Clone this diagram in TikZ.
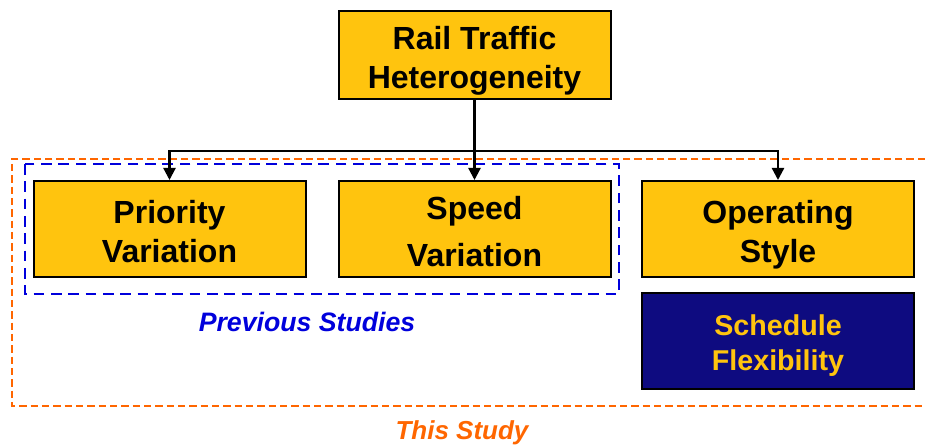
\documentclass[tikz,border=0pt]{standalone}
\usepackage{fontspec}
\setmainfont{Liberation Sans}
\usetikzlibrary{arrows.meta}

\definecolor{boxyellow}{RGB}{255,196,14}
\definecolor{boxnavy}{RGB}{14,11,128}
\definecolor{studyorange}{RGB}{255,102,0}
\definecolor{prevblue}{RGB}{0,0,220}

% struts that keep the two lines at the same place in every box
\newcommand{\hiline}[1]{\rule{0pt}{#1}}
\newcommand{\loline}[1]{\rule[-#1]{0pt}{#1}}

\tikzset{every picture/.style={line width=0.75pt}}

\begin{document}
\begin{tikzpicture}[x=0.75pt,y=0.75pt,yscale=-1,xscale=1,
	box/.style={draw=black,line width=1.5pt,fill=boxyellow,minimum width=204pt,minimum height=72pt,align=center,font=\fontsize{24}{29}\selectfont\bfseries,inner sep=0pt},
	navybox/.style={draw=black,line width=1.5pt,fill=boxnavy,text=boxyellow,minimum width=204pt,minimum height=72pt,align=center,font=\fontsize{21.5}{27}\selectfont\bfseries,inner sep=0pt},
	link/.style={draw=black,line width=1.7pt},
	linkarrow/.style={link,-{Triangle[width=9pt,length=9pt]}}]
	\useasboundingbox (0,0) rectangle (925,445);

	% Boxes
	\node[box,minimum height=66pt] (rail) at (474.5,55) {\hiline{26.5pt}Rail Traffic\\Heterogeneity\loline{5.5pt}};
	\node[box] (prio) at (169.5,229) {\hiline{26.5pt}Priority\\Variation\loline{5.5pt}};
	\node[box] (speed) at (474.5,229) {\hiline{26.5pt}Speed\\[6pt]Variation\loline{5.5pt}};
	\node[box] (oper) at (778,229) {\hiline{26.5pt}Operating\\Style\loline{5.5pt}};
	\node[navybox] (sched) at (778,341) {\hiline{23pt}Schedule\\Flexibility\loline{5pt}};

	%Dashed frames
	\draw[studyorange,line width=1.7pt,dash pattern=on 5.5pt off 3pt] (925,159) -- (12,159) -- (12,406) -- (925,406);
	\draw[prevblue,line width=2pt,dash pattern=on 8pt off 5pt] (25,164) rectangle (619,294);

	%Straight Lines
	\coordinate (bar) at (474.5,151);
	\draw[link] (rail.south) -- (bar);
	\draw[linkarrow] (bar) -| (prio.north);
	\draw[linkarrow] (bar) -| (oper.north);
	\draw[linkarrow] (rail.south) -- (speed.north);

	% Text Node
	\node[text=prevblue,font=\fontsize{20}{24}\selectfont\bfseries\itshape] (prevlbl) at (307,322) {Previous Studies};
	% Text Node
	\node[text=studyorange,font=\fontsize{19.5}{24}\selectfont\bfseries\itshape] (thislbl) at (462,433) {This Study};

\end{tikzpicture}
\end{document}
